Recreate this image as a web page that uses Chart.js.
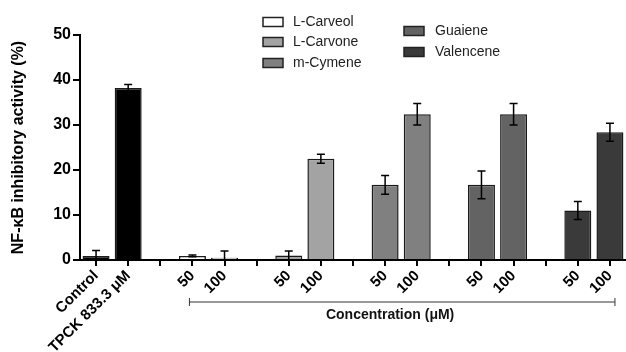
<!DOCTYPE html>
<html>
<head>
<meta charset="utf-8">
<script src="https://cdn.jsdelivr.net/npm/chart.js@4"></script>
<style>
html,body{margin:0;padding:0;background:#fff;}
#wrap{width:626px;height:352px;position:relative;}
</style>
</head>
<body>
<div id="wrap"><canvas id="chart" width="626" height="352"></canvas></div>
<script>
var F = "'Liberation Sans', Arial, sans-serif";

// data
var categories = ["Control","TPCK 833.3 \u03bcM","","50","100","","50","100","","50","100","","50","100","","50","100"];
var activity   = [0.9, 38.2, null, 0.9, 0.5, null, 1.0, 22.5, null, 16.7, 32.4, null, 16.7, 32.4, null, 11.0, 28.4];
var errors     = [1.2, 0.8,  null, 0.2, 1.5, null, 1.0, 1.0,  null, 2.1,  2.4,  null, 3.1,  2.4,  null, 2.0,  2.0];
var barColors  = ["#000000","#000000","transparent","#ffffff","#ffffff","transparent","#a3a3a3","#a3a3a3","transparent",
                  "#808080","#808080","transparent","#636363","#636363","transparent","#3a3a3a","#3a3a3a"];
var legendNames  = ["L-Carveol","L-Carvone","m-Cymene","Guaiene","Valencene"];
var legendColors = ["#ffffff","#a3a3a3","#808080","#636363","#3a3a3a"];
var yTicks = [0,10,20,30,40,50];

var errorBars = {
  id:'errorBars',
  afterDatasetsDraw:function(chart){
    var ctx = chart.ctx, x = chart.scales.x, y = chart.scales.y;
    ctx.save();
    ctx.strokeStyle = '#000';
    ctx.lineWidth = 1.5;
    for (var i=0;i<activity.length;i++){
      if (activity[i]==null) continue;
      var px = x.getPixelForValue(i);
      var top = y.getPixelForValue(activity[i]+errors[i]);
      var bot = y.getPixelForValue(Math.max(0,activity[i]-errors[i]));
      ctx.beginPath();
      ctx.moveTo(px,top); ctx.lineTo(px,bot);
      ctx.moveTo(px-4,top); ctx.lineTo(px+4,top);
      ctx.moveTo(px-4,bot); ctx.lineTo(px+4,bot);
      ctx.stroke();
    }
    ctx.restore();
  }
};

var extras = {
  id:'extras',
  afterDraw:function(chart){
    var ctx = chart.ctx, x = chart.scales.x;
    ctx.save();
    // concentration bracket
    var x1 = x.getPixelForValue(3)-3, x2 = x.getPixelForValue(16)+5, by = 302;
    ctx.strokeStyle = '#333';
    ctx.lineWidth = 1;
    ctx.beginPath();
    ctx.moveTo(x1,by); ctx.lineTo(x2,by);
    ctx.moveTo(x1,by-4); ctx.lineTo(x1,by+4);
    ctx.moveTo(x2,by-4); ctx.lineTo(x2,by+4);
    ctx.stroke();
    ctx.fillStyle = '#111';
    ctx.font = 'bold 14px ' + F;
    ctx.textAlign = 'center';
    ctx.textBaseline = 'middle';
    ctx.fillText('Concentration (\u03bcM)', x.getPixelForValue(9)+5, 315);

    // legend, two columns
    var pos = [[263,22],[263,42],[263,63],[404,31],[404,52]];
    ctx.font = '14px ' + F;
    ctx.textAlign = 'left';
    for (var i=0;i<legendNames.length;i++){
      var lx = pos[i][0], ly = pos[i][1];
      ctx.fillStyle = legendColors[i];
      ctx.fillRect(lx, ly-4.5, 20, 9);
      ctx.strokeStyle = '#222';
      ctx.lineWidth = 1.5;
      ctx.strokeRect(lx, ly-4.5, 20, 9);
      ctx.fillStyle = '#222';
      ctx.fillText(legendNames[i], lx + (i<3 ? 30 : 31), ly);
    }
    ctx.restore();
  }
};

new Chart(document.getElementById('chart'), {
  type:'bar',
  data:{
    labels:categories,
    datasets:[{
      data:activity,
      backgroundColor:barColors,
      borderColor:'#1a1a1a',
      borderWidth:1.5,
      barPercentage:0.84,
      categoryPercentage:1.0
    }]
  },
  options:{
    responsive:false,
    animation:false,
    layout:{padding:{left:0,right:0,top:35,bottom:0}},
    plugins:{legend:{display:false},tooltip:{enabled:false}},
    scales:{
      x:{
        grid:{display:true,drawOnChartArea:false,offset:false,color:'#000',lineWidth:2,tickLength:6},
        border:{display:true,color:'#000',width:2},
        ticks:{color:'#000',font:{family:F,size:15,weight:'bold'},minRotation:45,maxRotation:45,autoSkip:false,padding:1},
        afterFit:function(s){ s.height = 92; s.paddingLeft = 0; s.paddingRight = 0; }
      },
      y:{
        min:0,max:50,
        afterBuildTicks:function(s){ s.ticks = yTicks.map(function(v){ return {value:v}; }); },
        grid:{drawOnChartArea:false,color:'#000',lineWidth:2,tickLength:7},
        border:{display:true,color:'#000',width:2},
        ticks:{color:'#000',font:{family:F,size:16,weight:'bold'},padding:2},
        title:{display:true,text:'NF-\u03baB inhibitory activity (%)',color:'#000',
               font:{family:F,size:16,weight:'bold'},padding:{top:9,bottom:0}},
        afterFit:function(s){ s.width = 80; }
      }
    }
  },
  plugins:[errorBars, extras]
});
</script>
</body>
</html>
